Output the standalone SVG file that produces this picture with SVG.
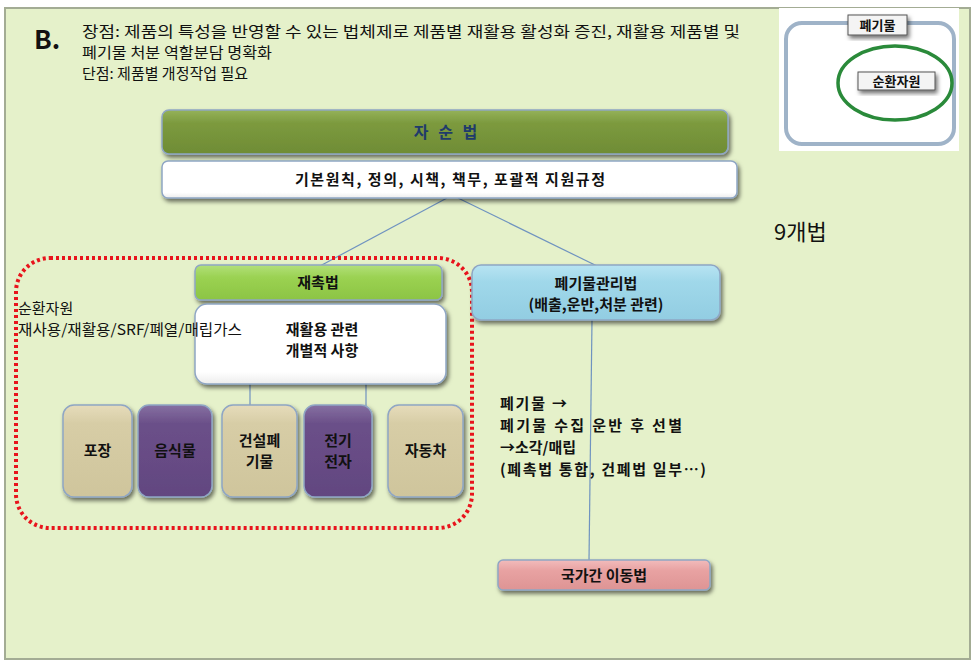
<svg xmlns="http://www.w3.org/2000/svg" width="975" height="662" viewBox="0 0 975 662">
<style>
.t{font-family:"Noto Sans CJK KR","Noto Sans",sans-serif;fill:#111;}
.b{font-weight:bold;}
.c{text-anchor:middle;}
.box{stroke:#8fa6c4;stroke-width:1.5;}
.conn{stroke:#6f93c0;stroke-width:1.2;fill:none;}
</style>
<defs>
<filter id="sh" x="-10%" y="-10%" width="125%" height="140%">
<feDropShadow dx="2" dy="3" stdDeviation="2" flood-color="#000" flood-opacity="0.55"/>
</filter>
<linearGradient id="gOlive" x1="0" y1="0" x2="0" y2="1"><stop offset="0" stop-color="#95b25a"/><stop offset="0.3" stop-color="#7c9a3e"/><stop offset="1" stop-color="#6f8c35"/></linearGradient>
<linearGradient id="gLime" x1="0" y1="0" x2="0" y2="1"><stop offset="0" stop-color="#b2e07a"/><stop offset="0.35" stop-color="#9bd252"/><stop offset="1" stop-color="#8cc444"/></linearGradient>
<linearGradient id="gSky" x1="0" y1="0" x2="0" y2="1"><stop offset="0" stop-color="#b8e4f2"/><stop offset="0.3" stop-color="#a0d8ea"/><stop offset="1" stop-color="#92cde2"/></linearGradient>
<linearGradient id="gPink" x1="0" y1="0" x2="0" y2="1"><stop offset="0" stop-color="#f2bcbc"/><stop offset="0.35" stop-color="#e8a2a2"/><stop offset="1" stop-color="#de9494"/></linearGradient>
<linearGradient id="gTan" x1="0" y1="0" x2="0" y2="1"><stop offset="0" stop-color="#e6dcbb"/><stop offset="0.2" stop-color="#d7cda6"/><stop offset="1" stop-color="#cfc59c"/></linearGradient>
<linearGradient id="gPur" x1="0" y1="0" x2="0" y2="1"><stop offset="0" stop-color="#8670a2"/><stop offset="0.2" stop-color="#6b5089"/><stop offset="1" stop-color="#624680"/></linearGradient>
<linearGradient id="gWhite" x1="0" y1="0" x2="0" y2="1"><stop offset="0" stop-color="#ffffff"/><stop offset="0.85" stop-color="#ffffff"/><stop offset="1" stop-color="#ececec"/></linearGradient>
</defs>

<rect x="0" y="0" width="975" height="662" fill="#ffffff"/>
<rect x="5" y="8" width="965" height="651" fill="#e5f1ca" stroke="#a3ac94" stroke-width="2"/>

<g id="header">
<text class="t b" x="34" y="49" font-size="26" font-family="Liberation Sans Narrow,Liberation Sans,sans-serif">B.</text>
<text class="t" x="82" y="37" font-size="15" textLength="658" lengthAdjust="spacingAndGlyphs">장점: 제품의 특성을 반영할 수 있는 법체제로 제품별 재활용 활성화 증진, 재활용 제품별 및</text>
<text class="t" x="82" y="58" font-size="15" textLength="190" lengthAdjust="spacingAndGlyphs">폐기물 처분 역할분담 명확화</text>
<text class="t" x="82" y="79" font-size="15" textLength="166" lengthAdjust="spacingAndGlyphs">단점: 제품별 개정작업 필요</text>
</g>

<g id="inset">
<rect x="779" y="8" width="180" height="143" fill="#ffffff"/>
<rect x="786" y="23" width="168" height="121" rx="16" fill="#ffffff" stroke="#9fb3c8" stroke-width="4"/>
<rect x="848" y="15" width="59" height="20" fill="#f4f4f4" stroke="#555" stroke-width="1" filter="url(#sh)"/>
<text class="t b c" x="877.5" y="30" font-size="13">폐기물</text>
<ellipse cx="895" cy="83" rx="57" ry="37" fill="none" stroke="#2a8a3a" stroke-width="3.5"/>
<rect x="858" y="72" width="77" height="18" fill="#f4f4f4" stroke="#555" stroke-width="1" filter="url(#sh)"/>
<text class="t b c" x="896.5" y="86" font-size="13">순환자원</text>
</g>

<g id="connectors">
<line class="conn" x1="447" y1="198" x2="320" y2="266"/>
<line class="conn" x1="458" y1="198" x2="597" y2="266"/>
<line class="conn" x1="250" y1="384" x2="250" y2="406"/>
<line class="conn" x1="366" y1="384" x2="366" y2="406"/>
<line class="conn" x1="592" y1="320" x2="589" y2="561"/>
</g>

<g id="jasunbeop">
<rect class="box" x="162" y="110" width="566" height="44" rx="7" fill="url(#gOlive)" filter="url(#sh)"/>
<text class="t b c" x="447" y="138" font-size="16" style="fill:#1f3b6b" letter-spacing="3">자 순 법</text>
</g>

<g id="general">
<rect class="box" x="162" y="161" width="575" height="37" rx="6" fill="url(#gWhite)" filter="url(#sh)"/>
<text class="t b c" x="450" y="185" font-size="15" textLength="310" lengthAdjust="spacing">기본원칙, 정의, 시책, 책무, 포괄적 지원규정</text>
</g>

<g id="ninelaws">
<text class="t" x="774" y="240" font-size="22">9개법</text>
</g>

<g id="circular-group">
<rect x="16" y="258" width="456" height="270" rx="34" fill="none" stroke="#e8141c" stroke-width="4" stroke-dasharray="3 3"/>
</g>

<g id="jaechokbeop">
<rect class="box" x="195" y="265" width="247" height="35" rx="6" fill="url(#gLime)" filter="url(#sh)"/>
<text class="t b c" x="318" y="288" font-size="15">재촉법</text>
</g>

<g id="recycling-detail">
<rect class="box" x="195" y="304" width="251" height="80" rx="12" fill="url(#gWhite)" filter="url(#sh)"/>
<text class="t b c" x="322" y="335" font-size="15">재활용 관련</text>
<text class="t b c" x="322" y="356" font-size="15">개별적 사항</text>
</g>

<g id="circular-label">
<text class="t" x="18" y="314" font-size="15">순환자원</text>
<text class="t" x="18" y="335" font-size="15" textLength="224" lengthAdjust="spacingAndGlyphs">재사용/재활용/SRF/폐열/매립가스</text>
</g>

<g id="packaging">
<rect class="box" x="63" y="405" width="69" height="92" rx="11" fill="url(#gTan)" filter="url(#sh)"/>
<text class="t b c" x="97.5" y="456" font-size="15">포장</text>
</g>
<g id="food">
<rect class="box" x="138" y="405" width="74" height="92" rx="11" fill="url(#gPur)" filter="url(#sh)"/>
<text class="t b c" x="175" y="456" font-size="15">음식물</text>
</g>
<g id="construction">
<rect class="box" x="222" y="405" width="75" height="92" rx="11" fill="url(#gTan)" filter="url(#sh)"/>
<text class="t b c" x="259.5" y="446" font-size="15">건설폐</text>
<text class="t b c" x="259.5" y="467" font-size="15">기물</text>
</g>
<g id="electronics">
<rect class="box" x="304" y="405" width="68" height="92" rx="11" fill="url(#gPur)" filter="url(#sh)"/>
<text class="t b c" x="338" y="446" font-size="15">전기</text>
<text class="t b c" x="338" y="467" font-size="15">전자</text>
</g>
<g id="vehicle">
<rect class="box" x="388" y="405" width="75" height="92" rx="11" fill="url(#gTan)" filter="url(#sh)"/>
<text class="t b c" x="425.5" y="456" font-size="15">자동차</text>
</g>

<g id="waste-mgmt">
<rect class="box" x="472" y="265" width="248" height="55" rx="9" fill="url(#gSky)" filter="url(#sh)"/>
<text class="t b c" x="596" y="289" font-size="15">폐기물관리법</text>
<text class="t b c" x="596" y="310" font-size="15">(배출,운반,처분 관련)</text>
</g>

<g id="waste-note">
<text class="t b" x="500" y="409" font-size="15" textLength="67" lengthAdjust="spacing">폐기물 →</text>
<text class="t b" x="500" y="431" font-size="15" textLength="182" lengthAdjust="spacing">폐기물 수집 운반 후 선별</text>
<text class="t b" x="500" y="453" font-size="15">→소각/매립</text>
<text class="t b" x="500" y="475" font-size="15" textLength="206" lengthAdjust="spacing">(폐촉법 통합, 건폐법 일부…)</text>
</g>

<g id="transboundary">
<rect class="box" x="498" y="560" width="212" height="30" rx="5" fill="url(#gPink)" filter="url(#sh)"/>
<text class="t b c" x="604" y="581" font-size="15">국가간 이동법</text>
</g>
</svg>
